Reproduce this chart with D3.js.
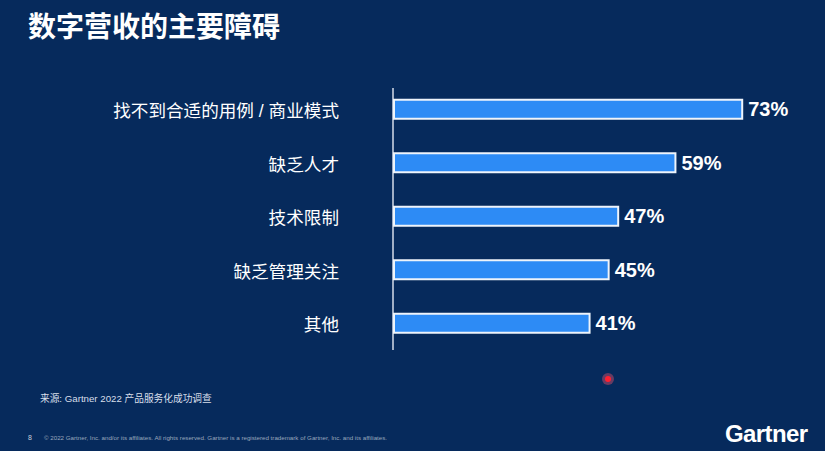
<!DOCTYPE html>
<html>
<head>
<meta charset="utf-8">
<script src="https://cdn.jsdelivr.net/npm/d3@7"></script>
<style>
  html, body { margin: 0; padding: 0; background: #062a5c; }
  svg { display: block; }
  text { font-family: "Liberation Sans", Arial, "Noto Sans CJK SC", sans-serif; }
</style>
</head>
<body>
<div id="chart"></div>
<script>
const categories = ["找不到合适的用例 / 商业模式", "缺乏人才", "技术限制", "缺乏管理关注", "其他"];
const values = [73, 59, 47, 45, 41];

const titleText = "数字营收的主要障碍";
const sourceText = "来源: Gartner 2022 产品服务化成功调查";
const footerText = "© 2022 Gartner, Inc. and/or its affiliates. All rights reserved. Gartner is a registered trademark of Gartner, Inc. and its affiliates.";

const W = 825, H = 451;
const cjk = '"Noto Sans CJK SC", "Liberation Sans", sans-serif';

const svg = d3.select("#chart")
  .append("svg")
  .attr("width", W)
  .attr("height", H);

svg.append("rect")
  .attr("width", W)
  .attr("height", H)
  .attr("fill", "#062a5c");

// title
svg.append("text")
  .attr("x", 28)
  .attr("y", 37)
  .attr("fill", "#ffffff")
  .attr("font-family", cjk)
  .attr("font-size", 28)
  .attr("font-weight", "bold")
  .text(titleText);

const x = d3.scaleLinear()
  .domain([0, 100])
  .range([394, 394 + 477]);

const y = d3.scaleBand()
  .domain(categories)
  .range([82.5, 350])
  .paddingInner(0.645)
  .paddingOuter(0.3225);

// axis with category labels
const axis = svg.append("g")
  .attr("transform", `translate(${x(0) - 1},0)`)
  .call(d3.axisLeft(y).tickSize(0).tickPadding(54));

axis.select(".domain")
  .attr("stroke", "#d6dde8")
  .attr("stroke-width", 1.5)
  .attr("d", "M0,88V350");

axis.selectAll("text")
  .attr("fill", "#ffffff")
  .attr("font-family", cjk)
  .attr("font-size", 17.6)
  .attr("dy", "0.45em");

// bars
svg.selectAll(".bar")
  .data(values)
  .enter()
  .append("rect")
  .attr("class", "bar")
  .attr("x", x(0))
  .attr("y", (d, i) => y(categories[i]))
  .attr("width", d => x(d) - x(0))
  .attr("height", y.bandwidth())
  .attr("fill", "#2d8bf5")
  .attr("stroke", "#eef4fb")
  .attr("stroke-width", 2);

// value labels
svg.selectAll(".val")
  .data(values)
  .enter()
  .append("text")
  .attr("class", "val")
  .attr("x", d => x(d) + 6)
  .attr("y", (d, i) => y(categories[i]) + y.bandwidth() / 2)
  .attr("dy", "0.36em")
  .attr("fill", "#ffffff")
  .attr("font-size", 20)
  .attr("font-weight", "bold")
  .text(d => d + "%");

// source
svg.append("text")
  .attr("x", 40)
  .attr("y", 402)
  .attr("fill", "#d8dfea")
  .attr("font-family", cjk)
  .attr("font-size", 9.7)
  .text(sourceText);

// footer
svg.append("text")
  .attr("x", 28)
  .attr("y", 440)
  .attr("fill", "#c8d0dc")
  .attr("font-size", 7)
  .text("8");

svg.append("text")
  .attr("x", 44)
  .attr("y", 439.5)
  .attr("fill", "#9aa8bd")
  .attr("font-size", 6.2)
  .text(footerText);

// logo
svg.append("text")
  .attr("x", 725)
  .attr("y", 442)
  .attr("fill", "#ffffff")
  .attr("font-size", 24)
  .attr("font-weight", "bold")
  .attr("letter-spacing", -0.6)
  .text("Gartner");

// laser pointer dot
svg.append("circle")
  .attr("cx", 608)
  .attr("cy", 379)
  .attr("r", 6)
  .attr("fill", "#e0506a")
  .attr("opacity", 0.45);
svg.append("circle")
  .attr("cx", 608)
  .attr("cy", 379)
  .attr("r", 3)
  .attr("fill", "#ff2030");
</script>
</body>
</html>
